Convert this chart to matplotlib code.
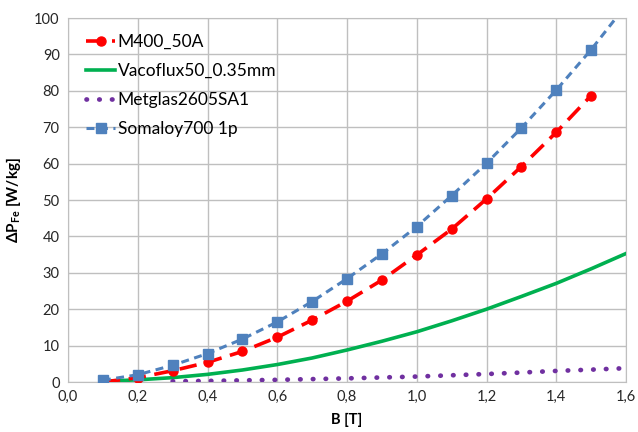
import matplotlib.pyplot as plt
import numpy as np

plt.rcParams['font.family'] = ['Lato', 'DejaVu Sans']
plt.rcParams['mathtext.fontset'] = 'custom'
plt.rcParams['mathtext.rm'] = 'Lato'
plt.rcParams['mathtext.bf'] = 'Lato:bold'

# data
b_m400 = [0.1, 0.2, 0.3, 0.4, 0.5, 0.6, 0.7, 0.8, 0.9, 1.0, 1.1, 1.2, 1.3, 1.4, 1.5]
p_m400 = [0.0, 1.2, 3.1, 5.4, 8.4, 12.3, 17.0, 22.2, 28.0, 34.9, 42.0, 50.3, 59.2, 68.6, 78.7]

b_vaco = [0.1, 0.2, 0.3, 0.4, 0.5, 0.6, 0.7, 0.8, 0.9, 1.0, 1.1, 1.2, 1.3, 1.4, 1.5, 1.6]
p_vaco = [0.2, 0.6, 1.2, 2.1, 3.3, 4.8, 6.6, 8.8, 11.2, 13.8, 16.8, 20.0, 23.5, 27.1, 31.1, 35.3]

b_metg = [0.3, 0.4, 0.5, 0.6, 0.7, 0.8, 0.9, 1.0, 1.1, 1.2, 1.3, 1.4, 1.5, 1.6]
p_metg = [0.2, 0.3, 0.45, 0.6, 0.8, 1.0, 1.25, 1.5, 1.85, 2.2, 2.6, 3.05, 3.4, 3.8]

b_soma = [0.1, 0.2, 0.3, 0.4, 0.5, 0.6, 0.7, 0.8, 0.9, 1.0, 1.1, 1.2, 1.3, 1.4, 1.5, 1.6]
p_soma = [0.5, 2.0, 4.6, 7.8, 11.8, 16.5, 22.1, 28.4, 35.2, 42.7, 51.2, 60.1, 69.8, 80.2, 91.3, 103.5]

fig = plt.figure(figsize=(6.38, 4.32), dpi=100)
ax = fig.add_axes([0.1066, 0.1157, 0.8746, 0.8426])

ax.plot(b_m400, p_m400, color='#FF0000', lw=2.6, ls=(0, (4.8, 2.4)), marker='o', ms=6.5,
        label='M400_50A', zorder=4)
ax.plot(b_vaco, p_vaco, color='#00B050', lw=2.6, label='Vacoflux50_0.35mm', zorder=3)
ax.plot(b_metg, p_metg, color='#7030A0', lw=3.4, ls=(0, (0.1, 2.6)), dash_capstyle='round',
        label='Metglas2605SA1', zorder=3)
ax.plot(b_soma, p_soma, color='#4F81BD', lw=2.2, ls=(0, (2.6, 1.8)), marker='s', ms=6.5,
        label='Somaloy700 1p', zorder=5)

ax.set_xlim(0, 1.6)
ax.set_ylim(0, 100)
ax.set_xticks(np.arange(0, 1.61, 0.2))
ax.set_xticklabels([('%.1f' % v).replace('.', ',') for v in np.arange(0, 1.61, 0.2)])
ax.set_yticks(np.arange(0, 101, 10))
ax.grid(True, color='#BFBFBF', lw=1)
ax.set_axisbelow(True)
for s in ax.spines.values():
    s.set_color('#BFBFBF')
ax.tick_params(length=0, labelsize=10.5, colors='#262626', pad=6)

ax.set_xlabel('B [T]', fontsize=10.5, fontweight='bold', labelpad=6)
ax.set_ylabel(r'ΔP$_{\mathbf{Fe}}$ [W/kg]', fontsize=11, fontweight='bold', labelpad=8)

leg = ax.legend(loc='upper left', frameon=False, fontsize=12.5, handlelength=1.7,
                handletextpad=0.15, labelspacing=0.75, borderaxespad=0.3,
                bbox_to_anchor=(0.01, 0.99))

fig.savefig('out.png', dpi=100)
